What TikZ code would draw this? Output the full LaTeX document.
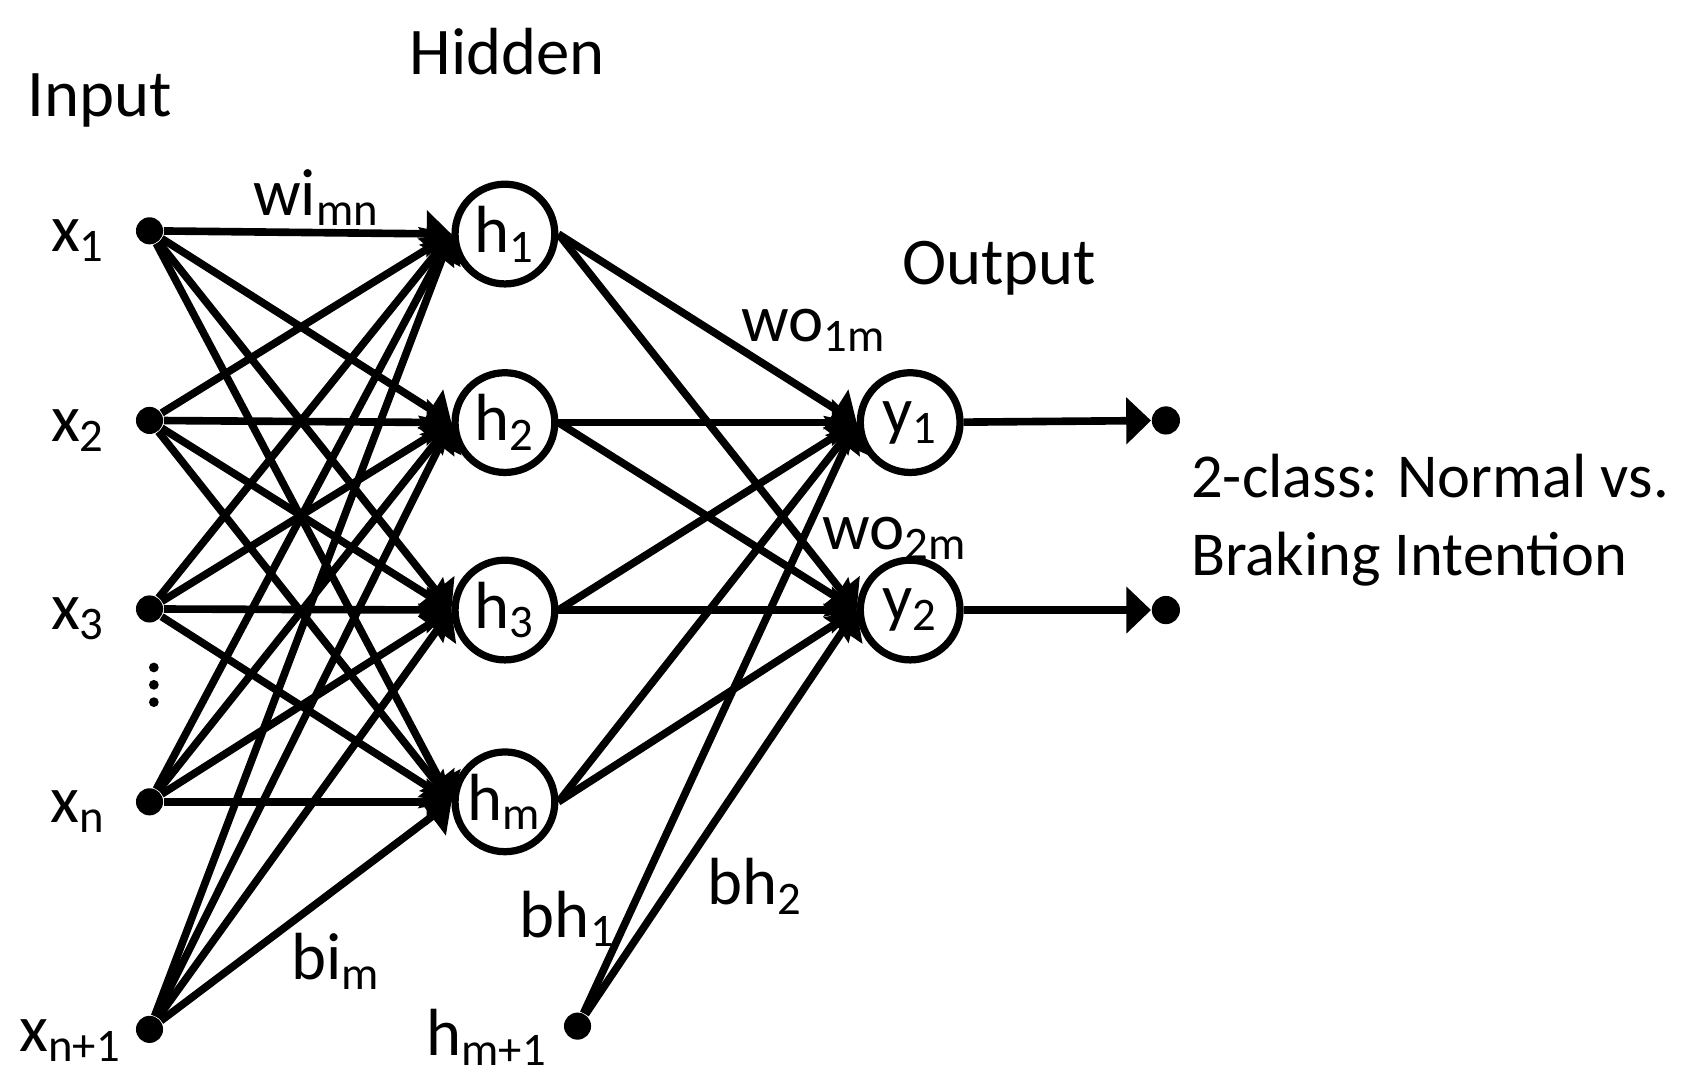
\documentclass[tikz,border=0pt]{standalone}
\usepackage{fontspec}
\setmainfont{Carlito}
\usetikzlibrary{arrows.meta,positioning}
\newcommand{\lsub}[1]{\textsubscript{#1}}

\tikzset{
  neuron/.style={circle, draw, line width=1.9pt, minimum size=0.92cm, inner sep=0pt},
  port/.style={circle, fill, inner sep=0pt, minimum size=0.25cm},
  link/.style={line width=2pt, -{Triangle[length=6.5pt,width=12pt]}},
}

\begin{document}
\begin{tikzpicture}[x=0.01cm, y=-0.01cm, font=\fontsize{17.5}{20}\selectfont]
  \useasboundingbox (0,0) rectangle (1568,1002);

  % input layer
  \node[port] (x1) at (138,213) {};
  \node[port] (x2) at (138,388) {};
  \node[port] (x3) at (138,562) {};
  \node[port] (xn) at (138,740) {};
  \node[port] (xb) at (138,950) {};
  \foreach \d in {616,632,648}
    \fill (142,\d) circle (0.045cm);
  \node[left=0.15cm of x1, yshift=-0.09cm] (lx1) {x\lsub{1}};
  \node[left=0.15cm of x2, yshift=-0.09cm] (lx2) {x\lsub{2}};
  \node[left=0.15cm of x3, yshift=-0.09cm] (lx3) {x\lsub{3}};
  \node[left=0.15cm of xn, yshift=-0.09cm] (lxn) {x\lsub{n}};
  \node[left=0cm of xb, yshift=-0.1cm] (lxb) {x\lsub{n+1}};

  % hidden layer
  \node[neuron] (h1) at (466,216) {h\lsub{1}};
  \node[neuron] (h2) at (466,390) {h\lsub{2}};
  \node[neuron] (h3) at (466,563) {h\lsub{3}};
  \node[neuron] (hm) at (466,740) {h\lsub{m}};
  \node[port] (hb) at (533,947) {};
  \node[left=0.02cm of hb, yshift=-0.1cm] (lhb) {h\lsub{m+1}};

  % output layer
  \node[neuron] (y1) at (840,390) {y\lsub{1}};
  \node[neuron] (y2) at (840,563) {y\lsub{2}};
  \node[port, minimum size=0.26cm] (o1) at (1076,388) {};
  \node[port, minimum size=0.26cm] (o2) at (1076,563) {};

  \foreach \i in {x1,x2,x3,xn,xb}
    \foreach \j in {h1,h2,h3,hm}
      \draw[link] (\i) -- (\j.west);
  \foreach \j in {h1,h2,h3,hm}
    \foreach \k in {y1,y2}
      \draw[link] (\j.east) -- (\k.west);
  \foreach \k in {y1,y2}
    \draw[link] (hb) -- (\k.west);
  \draw[link] (y1) -- (o1);
  \draw[link] (y2) -- (o2);

  % titles and weights
  \node (tin) at (92,93) {Input};
  \node (thid) at (468,48) {Hidden};
  \node (tout) at (922,248) {Output};
  \node (wi) at (292,182) {wi\lsub{mn}};
  \node (wo1) at (751,305) {wo\lsub{1m}};
  \node (wo2) at (826,497) {wo\lsub{2m}};
  \node (bi) at (310,887) {bi\lsub{m}};
  \node (bh1) at (524,848) {bh\lsub{1}};
  \node (bh2) at (697,818) {bh\lsub{2}};
  \node[anchor=west, align=left, font=\fontsize{16.4}{20.5}\selectfont] (cls) at (1087,480) {2-class: Normal vs.\\Braking Intention};
\end{tikzpicture}
\end{document}
